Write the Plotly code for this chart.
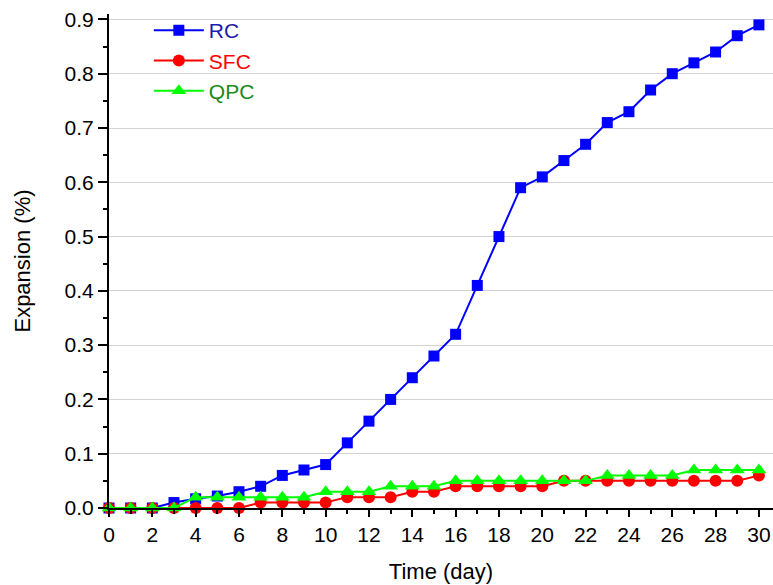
import plotly.graph_objects as go

days = list(range(0, 31))
rc = [0, 0, 0, 0.01, 0.017, 0.022, 0.03, 0.04, 0.06, 0.07, 0.08, 0.12, 0.16, 0.20, 0.24, 0.28,
      0.32, 0.41, 0.50, 0.59, 0.61, 0.64, 0.67, 0.71, 0.73, 0.77, 0.80, 0.82, 0.84, 0.87, 0.89]
sfc = [0, 0, 0, 0, 0, 0, 0, 0.01, 0.01, 0.01, 0.01, 0.02, 0.02, 0.02, 0.03, 0.03,
       0.04, 0.04, 0.04, 0.04, 0.04, 0.05, 0.05, 0.05, 0.05, 0.05, 0.05, 0.05, 0.05, 0.05, 0.06]
qpc = [0, 0, 0, 0, 0.02, 0.02, 0.02, 0.02, 0.02, 0.02, 0.03, 0.03, 0.03, 0.04, 0.04, 0.04,
       0.05, 0.05, 0.05, 0.05, 0.05, 0.05, 0.05, 0.06, 0.06, 0.06, 0.06, 0.07, 0.07, 0.07, 0.07]
x_ticks = list(range(0, 31, 2))
y_ticks = [round(0.1 * i, 1) for i in range(10)]

series = [
    ("RC", rc, "#0000ff", "square", 11, "#1c1ca8"),
    ("SFC", sfc, "#ff0000", "circle", 12, "#ff0000"),
    ("QPC", qpc, "#00ff00", "triangle-up", 13, "#1a8a1a"),
]

fig = go.Figure()
for name, vals, col, sym, sz, tcol in series:
    fig.add_trace(go.Scatter(
        x=days, y=vals, mode="lines+markers",
        name=f"<span style='color:{tcol}'>{name}</span>",
        line=dict(color=col, width=2),
        marker=dict(symbol=sym, size=sz, color=col),
        cliponaxis=False,
    ))

font = "Arial, Liberation Sans, sans-serif"
fig.update_layout(
    width=773, height=585,
    margin=dict(l=109, r=0, t=14, b=77),
    plot_bgcolor="white", paper_bgcolor="white",
    font=dict(family=font, size=21, color="black"),
    showlegend=True,
    legend=dict(x=0.06, y=1.008, xanchor="left", yanchor="top",
                bgcolor="rgba(0,0,0,0)", font=dict(size=21),
                tracegroupgap=0, itemwidth=50),
    xaxis=dict(
        range=[0, 30.65], tickvals=x_ticks, ticks="outside", ticklen=7, tickwidth=1.5,
        tickcolor="black", showline=True, linecolor="black", linewidth=2,
        showgrid=False, zeroline=False,
        minor=dict(dtick=1, ticks="outside", ticklen=4, tickwidth=1.5, tickcolor="black"),
        title=dict(text="Time (day)", font=dict(size=22), standoff=18),
        tickfont=dict(size=21),
    ),
    yaxis=dict(
        range=[0, 0.91], tickvals=y_ticks, tickformat=".1f", ticks="outside", ticklen=9,
        tickwidth=1.5, tickcolor="black", showline=True, linecolor="black", linewidth=2,
        showgrid=True, gridcolor="#d3d3d3", gridwidth=1, zeroline=False,
        minor=dict(dtick=0.05, ticks="outside", ticklen=4, tickwidth=1.5, tickcolor="black", showgrid=False),
        title=dict(text="Expansion (%)", font=dict(size=22), standoff=28),
        tickfont=dict(size=21),
    ),
)

fig.write_html("out.html")
